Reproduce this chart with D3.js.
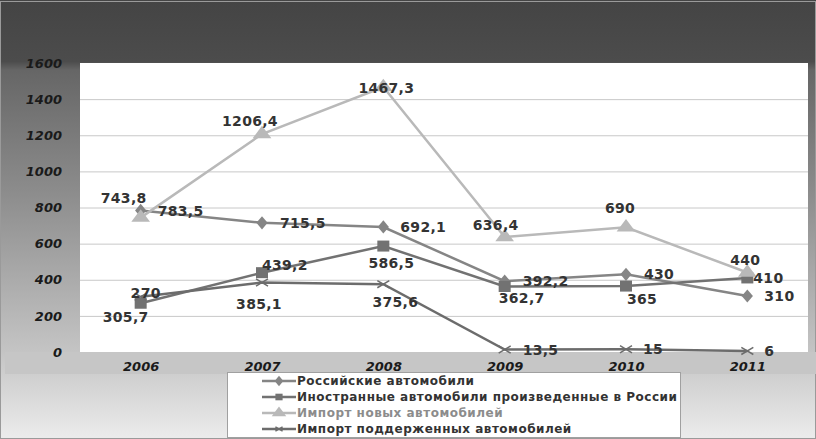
<!DOCTYPE html>
<html lang="ru">
<head>
<meta charset="utf-8">
<script src="https://d3js.org/d3.v7.min.js"></script>
<style>
  body { margin: 0; background: #fff; }
  text { font-family: "DejaVu Sans", Verdana, sans-serif; }
</style>
</head>
<body>
<div id="chart"></div>
<script>
// data
var years = ["2006", "2007", "2008", "2009", "2010", "2011"];
var russian = [783.5, 715.5, 692.1, 392.2, 430, 310];
var foreign = [270, 439.2, 586.5, 362.7, 365, 410];
var importNew = [743.8, 1206.4, 1467.3, 636.4, 690, 440];
var importUsed = [305.7, 385.1, 375.6, 13.5, 15, 6];
var yTicks = [0, 200, 400, 600, 800, 1000, 1200, 1400, 1600];
var seriesNames = ["Российские автомобили", "Иностранные автомобили произведенные в России",
                   "Импорт новых автомобилей", "Импорт поддерженных автомобилей"];

// where each value label sits relative to its point: [dx, dy of text centre, anchor]
var labelNudge = {
    russian:    [[17, 0, "start"], [18, 0, "start"], [17, 0, "start"], [18, 0, "start"], [18, 0, "start"], [17, 0, "start"]],
    foreign:    [[5, -10, "middle"], [0, -8, "start"], [8, 17, "middle"], [17, 11, "middle"], [16, 13, "middle"], [6, 0, "start"]],
    importNew:  [[-17, -20, "middle"], [-12, -13, "middle"], [3, 1, "middle"], [-9, -12, "middle"], [-6, -19, "middle"], [-2, -13, "middle"]],
    importUsed: [[-15, 20, "middle"], [-3, 22, "middle"], [12, 18, "middle"], [18, 0, "start"], [17, 0, "start"], [17, 0, "start"]]
};

let width = 816, height = 439;
let plot = {left: 80, right: 808, top: 63, bottom: 352};

let svg = d3.select("#chart").append("svg")
    .attr("width", width).attr("height", height);

let defs = svg.append("defs");
let grad = defs.append("linearGradient").attr("id", "bg")
    .attr("x1", 0).attr("y1", 0).attr("x2", 0).attr("y2", 1);
[[0, "#444444"], [0.14, "#4c4c4c"], [0.16, "#666666"], [0.45, "#8e8e8e"],
 [0.8, "#c4c4c4"], [1, "#ececec"]].forEach(function(s) {
    grad.append("stop").attr("offset", s[0]).attr("stop-color", s[1]);
});

svg.append("rect").attr("x", 0).attr("y", 0).attr("width", width).attr("height", height)
    .attr("fill", "url(#bg)");
svg.append("rect").attr("x", 0.5).attr("y", 1.5).attr("width", width - 1).attr("height", height - 2)
    .attr("fill", "none").attr("stroke", "#9a9a9a").attr("stroke-width", 1);
// band behind x-axis labels
svg.append("rect").attr("x", 5).attr("y", plot.bottom).attr("width", width - 5).attr("height", 22)
    .attr("fill", "#c6c6c6");

svg.append("rect").attr("x", plot.left).attr("y", plot.top)
    .attr("width", plot.right - plot.left).attr("height", plot.bottom - plot.top)
    .attr("fill", "#ffffff");

let x = d3.scalePoint().domain(years).range([plot.left, plot.right]).padding(0.5);
let y = d3.scaleLinear().domain([0, 1600]).range([plot.bottom, plot.top]);

// grid
svg.append("g").selectAll("line").data(yTicks.slice(1, -1)).enter().append("line")
    .attr("x1", plot.left).attr("x2", plot.right)
    .attr("y1", d => y(d) + 0.5).attr("y2", d => y(d) + 0.5)
    .attr("stroke", "#c8c8c8").attr("stroke-width", 1);

// y axis
let yAxis = svg.append("g").attr("transform", "translate(" + plot.left + ",0)")
    .call(d3.axisLeft(y).tickValues(yTicks).tickFormat(d3.format("d")).tickSize(0).tickPadding(18));
yAxis.select(".domain").remove();
yAxis.selectAll("text").attr("font-size", 13).attr("font-weight", "bold")
    .attr("font-style", "italic").attr("fill", "#1a1a1a")
    .style("font-family", "'DejaVu Sans', sans-serif");

// x axis
let xAxis = svg.append("g").attr("transform", "translate(0," + plot.bottom + ")")
    .call(d3.axisBottom(x).tickSize(0).tickPadding(10));
xAxis.select(".domain").remove();
xAxis.selectAll("text").attr("font-size", 13).attr("font-weight", "bold")
    .attr("font-style", "italic").attr("fill", "#1a1a1a")
    .style("font-family", "'DejaVu Sans', sans-serif");

let series = [
    {key: "russian", name: seriesNames[0], values: russian, color: "#858585", marker: "diamond"},
    {key: "foreign", name: seriesNames[1], values: foreign, color: "#727272", marker: "square"},
    {key: "importNew", name: seriesNames[2], values: importNew, color: "#b9b9b9", marker: "triangle"},
    {key: "importUsed", name: seriesNames[3], values: importUsed, color: "#6c6c6c", marker: "cross"}
];

function drawMarker(g, type, cx, cy, color, s) {
    if (type === "diamond") {
        g.append("path").attr("d", d3.symbol(d3.symbolDiamond, 70 * s)())
            .attr("transform", "translate(" + cx + "," + cy + ") scale(1.25,0.85)")
            .attr("fill", color);
    } else if (type === "square") {
        g.append("rect").attr("x", cx - 6 * s).attr("y", cy - 5.5 * s)
            .attr("width", 12 * s).attr("height", 11 * s).attr("fill", color);
    } else if (type === "triangle") {
        g.append("path").attr("d", d3.symbol(d3.symbolTriangle, 90 * s)())
            .attr("transform", "translate(" + cx + "," + cy + ") scale(1.3,1)")
            .attr("fill", color);
    } else {
        let r = 6 * s;
        g.append("path").attr("d", "M" + (cx - r) + "," + (cy - r * 0.6) + "L" + (cx + r) + "," + (cy + r * 0.6) +
                "M" + (cx - r) + "," + (cy + r * 0.6) + "L" + (cx + r) + "," + (cy - r * 0.6))
            .attr("stroke", color).attr("stroke-width", 1.5).attr("fill", "none");
    }
}

let line = d3.line().x((d, i) => x(years[i])).y(d => y(d));

series.forEach(function(s) {
    svg.append("path").datum(s.values).attr("d", line)
        .attr("fill", "none").attr("stroke", s.color).attr("stroke-width", 2.5);
});
series.forEach(function(s) {
    let g = svg.append("g");
    s.values.forEach(function(v, i) {
        drawMarker(g, s.marker, x(years[i]), y(v), s.color, 1);
    });
});

// data labels
series.forEach(function(s) {
    s.values.forEach(function(v, i) {
        let n = labelNudge[s.key][i];
        let px = x(years[i]), py = y(v);
        svg.append("text").text(String(v).replace(".", ","))
            .attr("x", px + n[0])
            .attr("y", py + n[1])
            .attr("dy", "0.36em")
            .attr("text-anchor", n[2])
            .attr("font-size", 14).attr("font-weight", "bold")
            .attr("letter-spacing", 0.3).attr("fill", "#333333");
    });
});

// legend
let lg = svg.append("g");
lg.append("rect").attr("x", 227.5).attr("y", 372.5).attr("width", 453).attr("height", 65)
    .attr("fill", "#ffffff").attr("stroke", "#a0a0a0");
let legendY = [381, 397, 413, 429];
series.forEach(function(s, i) {
    let ly = legendY[i];
    lg.append("line").attr("x1", 262).attr("x2", 296).attr("y1", ly).attr("y2", ly)
        .attr("stroke", s.color).attr("stroke-width", 2.5);
    drawMarker(lg, s.marker, 279, ly, s.color, 0.6);
    lg.append("text").attr("x", 297).attr("y", ly).attr("dy", "0.36em").text(s.name)
        .attr("font-size", 12).attr("font-weight", "bold").attr("letter-spacing", 0.5)
        .attr("fill", i === 2 ? "#8c8c8c" : "#333333");
});
</script>
</body>
</html>
